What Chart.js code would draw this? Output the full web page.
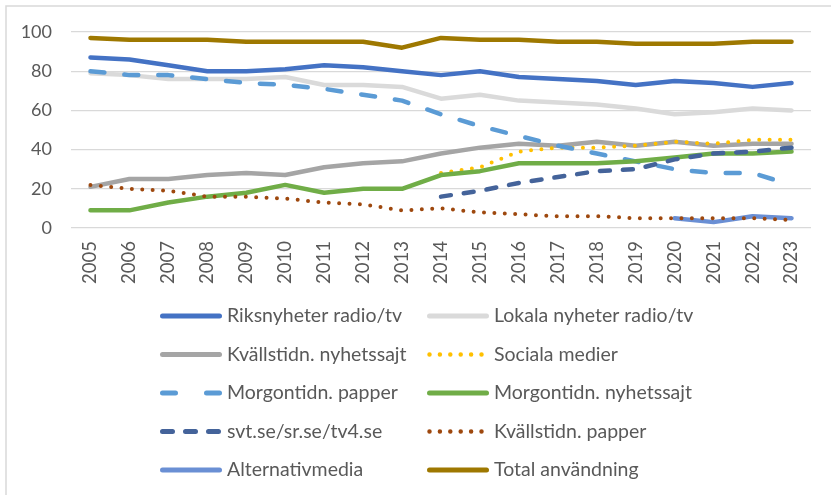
<!DOCTYPE html>
<html>
<head>
<meta charset="utf-8">
<script src="https://cdn.jsdelivr.net/npm/chart.js@4/dist/chart.umd.min.js"></script>
<style>
  html, body { margin: 0; padding: 0; background: #ffffff; }
  #wrap { width: 831px; height: 495px; position: relative; }
</style>
</head>
<body>
<div id="wrap"><canvas id="c" width="831" height="495"></canvas></div>
<script>
// ---- Data ----
const years = ['2005','2006','2007','2008','2009','2010','2011','2012','2013','2014','2015','2016','2017','2018','2019','2020','2021','2022','2023'];
const yTicks = [0, 20, 40, 60, 80, 100];

const riksnyheter      = [87, 86, 83, 80, 80, 81, 83, 82, 80, 78, 80, 77, 76, 75, 73, 75, 74, 72, 74];
const lokalaNyheter    = [79, 78, 76, 76, 76, 77, 73, 73, 72, 66, 68, 65, 64, 63, 61, 58, 59, 61, 60];
const kvallNyhetssajt  = [21, 25, 25, 27, 28, 27, 31, 33, 34, 38, 41, 43, 42, 44, 42, 44, 42, 43, 43];
const socialaMedier    = [null, null, null, null, null, null, null, null, null, 28, 31, 39, 41, 41, 42, 44, 43, 45, 45];
const morgonPapper     = [80, 78, 78, 76, 74, 73, 71, 68, 65, 58, 52, 47, 42, 38, 34, 30, 28, 28, 22];
const morgonNyhetssajt = [9, 9, 13, 16, 18, 22, 18, 20, 20, 27, 29, 33, 33, 33, 34, 36, 38, 38, 39];
const svtSrTv4         = [null, null, null, null, null, null, null, null, null, 16, 19, 23, 26, 29, 30, 35, 38, 39, 41];
const kvallPapper      = [22, 20, 19, 16, 16, 15, 13, 12, 9, 10, 8, 7, 6, 6, 5, 5, 5, 5, 4];
const alternativmedia  = [null, null, null, null, null, null, null, null, null, null, null, null, null, null, null, 5, 3, 6, 5];
const totalAnvandning  = [97, 96, 96, 96, 95, 95, 95, 95, 92, 97, 96, 96, 95, 95, 94, 94, 94, 95, 95];

const seriesNames = ['Riksnyheter radio/tv', 'Lokala nyheter radio/tv', 'Kvällstidn. nyhetssajt', 'Sociala medier',
  'Morgontidn. papper', 'Morgontidn. nyhetssajt', 'svt.se/sr.se/tv4.se', 'Kvällstidn. papper', 'Alternativmedia', 'Total användning'];
const seriesData = [riksnyheter, lokalaNyheter, kvallNyhetssajt, socialaMedier, morgonPapper, morgonNyhetssajt,
  svtSrTv4, kvallPapper, alternativmedia, totalAnvandning];

// ---- Styles ----
const FONT = 'Lato, "Open Sans", sans-serif';
const TEXT_COLOR = '#595959';
const styles = [
  { color: '#4472C4', width: 4.5, dash: [], cap: 'round', legendDash: [] },
  { color: '#DADADA', width: 4.5, dash: [], cap: 'round', legendDash: [] },
  { color: '#A5A5A5', width: 4.5, dash: [], cap: 'round', legendDash: [] },
  { color: '#FFC000', width: 4,   dash: [0, 10.4], cap: 'round', legendDash: [0, 10.4] },
  { color: '#5B9BD5', width: 4.5, dash: [14, 20], cap: 'round', legendDash: [13, 31] },
  { color: '#70AD47', width: 4.5, dash: [], cap: 'round', legendDash: [] },
  { color: '#44639A', width: 4.5, dash: [10, 13], cap: 'round', legendDash: [10, 13] },
  { color: '#9E480E', width: 4,   dash: [0, 10.4], cap: 'round', legendDash: [0, 10.4] },
  { color: '#6A8FD4', width: 4.5, dash: [], cap: 'round', legendDash: [] },
  { color: '#9E7800', width: 4.5, dash: [], cap: 'round', legendDash: [] }
];
// drawing order: later series on top, but the dotted "Kvällstidn. papper" sits above "Alternativmedia"
const drawOrder = [19, 18, 17, 16, 15, 14, 13, 11, 12, 10];

const datasets = seriesNames.map((name, i) => ({
  label: name,
  data: seriesData[i],
  borderColor: styles[i].color,
  backgroundColor: styles[i].color,
  borderWidth: styles[i].width,
  borderDash: styles[i].dash,
  borderCapStyle: styles[i].cap,
  borderJoinStyle: 'round',
  pointRadius: 0,
  pointHoverRadius: 0,
  tension: 0,
  spanGaps: false,
  fill: false,
  order: drawOrder[i]
}));

// Frame + white background
const framePlugin = {
  id: 'frame',
  beforeDraw(chart) {
    const ctx = chart.ctx;
    ctx.save();
    ctx.fillStyle = '#ffffff';
    ctx.fillRect(0, 0, chart.width, chart.height);
    ctx.strokeStyle = '#D9D9D9';
    ctx.lineWidth = 1.5;
    ctx.strokeRect(6, 6, chart.width + 20, chart.height + 20);
    ctx.restore();
  }
};

// Two-column legend like the reference
const legendPlugin = {
  id: 'twoColLegend',
  afterDraw(chart) {
    const ctx = chart.ctx;
    const colLineX = [160, 427];
    const lineLen = 62;
    const textGap = 5;
    const rowY0 = 316, rowStep = 38.5;
    ctx.save();
    chart.data.datasets.forEach((ds, i) => {
      const col = i % 2, row = Math.floor(i / 2);
      const y = rowY0 + row * rowStep;
      const x0 = colLineX[col];
      const st = styles[i];
      ctx.beginPath();
      ctx.strokeStyle = ds.borderColor;
      ctx.lineWidth = st.width + 0.5;
      ctx.lineCap = st.cap;
      ctx.setLineDash(st.legendDash);
      ctx.moveTo(x0 + 2.5, y);
      ctx.lineTo(x0 + lineLen - 2.5, y);
      ctx.stroke();
      ctx.setLineDash([]);
      ctx.fillStyle = TEXT_COLOR;
      ctx.font = '19.5px ' + FONT;
      ctx.textAlign = 'left';
      ctx.textBaseline = 'middle';
      ctx.fillText(ds.label, x0 + lineLen + textGap, y);
    });
    ctx.restore();
  }
};

new Chart(document.getElementById('c'), {
  type: 'line',
  data: { labels: years, datasets },
  plugins: [framePlugin, legendPlugin],
  options: {
    responsive: false,
    devicePixelRatio: 1,
    animation: false,
    events: [],
    layout: { padding: { top: 32, right: 20, bottom: 207, left: 0 } },
    plugins: {
      legend: { display: false },
      tooltip: { enabled: false },
      title: { display: false }
    },
    scales: {
      x: {
        offset: true,
        grid: { display: false, drawTicks: false },
        border: { display: false },
        ticks: {
          autoSkip: false,
          maxRotation: 90,
          minRotation: 90,
          padding: 13,
          color: TEXT_COLOR,
          font: { family: FONT, size: 18.5 }
        },
        afterFit(scale) { scale.height = 60; }
      },
      y: {
        min: 0,
        max: 100,
        afterBuildTicks(scale) { scale.ticks = yTicks.map(v => ({ value: v })); },
        grid: { color: '#D9D9D9', lineWidth: 1.2, drawTicks: false },
        border: { display: false },
        ticks: {
          padding: 19,
          color: TEXT_COLOR,
          font: { family: FONT, size: 18 }
        },
        afterFit(scale) { scale.width = 71; }
      }
    }
  }
});
</script>
</body>
</html>
